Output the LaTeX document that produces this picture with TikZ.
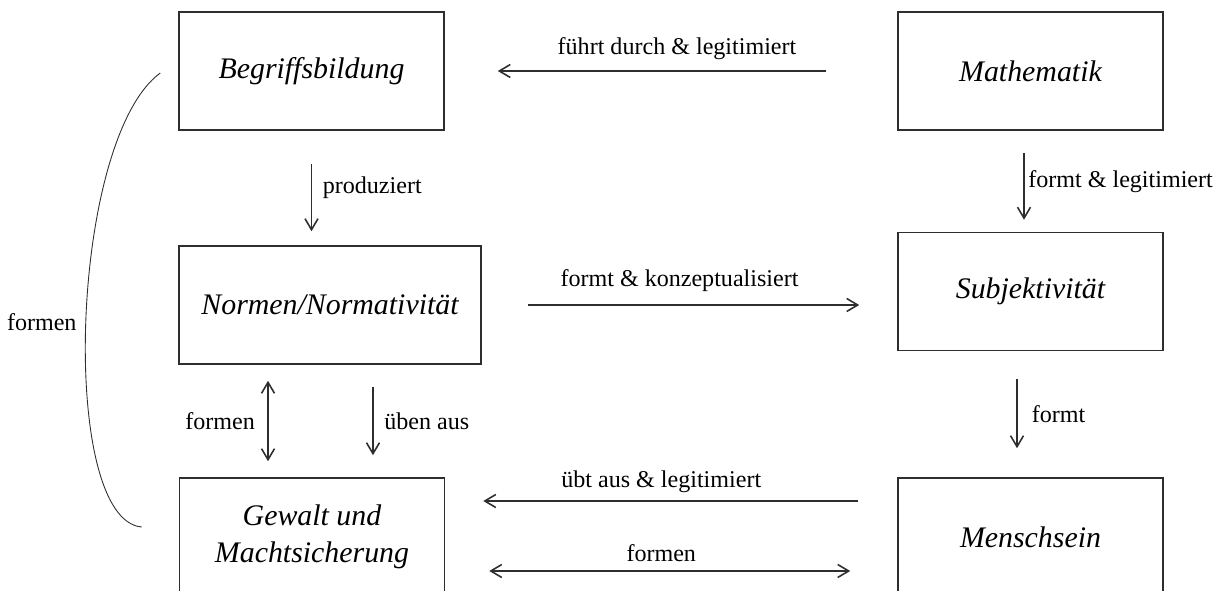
\documentclass[tikz,border=0pt]{standalone}
\usepackage{fontspec}
\setmainfont{Liberation Serif}
\usetikzlibrary{positioning,arrows.meta}
\definecolor{cline}{HTML}{2E2E2E}
\tikzset{
 blk/.style={rectangle, draw=cline, line width=0.9pt, minimum width=5.3cm,
 minimum height=2.36cm, align=center, font=\fontsize{17}{21}\selectfont\itshape},
 lbl/.style={inner sep=2pt, font=\fontsize{13.7}{16}\selectfont},
 fl/.style={-{Straight Barb[length=2.2mm,width=2.6mm]}, draw=cline, line width=0.9pt},
 fld/.style={{Straight Barb[length=2.2mm,width=2.6mm]}-{Straight Barb[length=2.2mm,width=2.6mm]},
 draw=cline, line width=0.9pt},
 arc/.style={draw=cline, line width=0.5pt},
}

\begin{document}
\begin{tikzpicture}[x=0.02cm, y=-0.02cm]
 \path[use as bounding box, clip] (0,0) rectangle (1228,591);

 \node[blk] (begr) at (311.5,71) {Begriffsbildung};
 \node[blk] (mathe) at (1030.5,71) {Mathematik};
 \node[blk, minimum width=6.04cm] (norm) at (330,305) {Normen/Normativität};
 \node[blk] (subj) at (1030.5,291.5) {Subjektivität};
 \node[blk] (gew) at (312,537) {Gewalt und\\Machtsicherung};
 \node[blk] (mensch) at (1030.5,537) {Menschsein};

 \draw[fl, shorten <=1.42cm, shorten >=1.06cm] (mathe.west) -- node[lbl, above=4pt, xshift=0.12cm]{führt durch \& legitimiert} (begr.east);
 \draw[fl, shorten <=0.66cm, shorten >=0.28cm] (begr.south) -- node[lbl, right=4pt]{produziert} (begr.south |- norm.north);
 \draw[fl, shorten <=0.44cm, shorten >=0.24cm] ([xshift=-0.13cm]mathe.south) -- node[lbl, right=0pt]{formt \& legitimiert} ([xshift=-0.13cm]subj.north);
 \draw[fl, shorten <=0.92cm, shorten >=0.76cm] (norm.east) -- node[lbl, above=5pt, xshift=-0.2cm]{formt \& konzeptualisiert} (norm.east -| subj.west);
 \draw[fl, shorten <=0.56cm, shorten >=0.58cm] ([xshift=-0.27cm]subj.south) -- node[lbl, right=6pt]{formt} ([xshift=-0.27cm]mensch.north);
 \draw[fld, shorten <=0.32cm, shorten >=0.32cm] ([xshift=-0.88cm]gew.north |- norm.south) -- node[lbl, left=5pt]{formen} ([xshift=-0.88cm]gew.north);
 \draw[fl, shorten <=0.44cm, shorten >=0.44cm] ([xshift=1.22cm]gew.north |- norm.south) -- node[lbl, right=4pt]{üben aus} ([xshift=1.22cm]gew.north);
 \draw[fl, shorten <=0.78cm, shorten >=0.76cm] ([yshift=0.72cm]mensch.west) -- node[lbl, above=2pt, xshift=-0.2cm]{übt aus \& legitimiert} ([yshift=0.72cm]gew.east);
 \draw[fld, shorten <=0.88cm, shorten >=0.94cm] ([yshift=-0.68cm]gew.east) -- node[lbl, above=3pt, xshift=-0.2cm]{formen} ([yshift=-0.68cm]mensch.west);
 \draw[arc] ([xshift=-0.36cm,yshift=-0.04cm]begr.west) .. controls +(-91,67) and +(-83,-7) .. node[lbl, pos=0.5, left=3pt]{formen} ([xshift=-0.74cm,yshift=0.2cm]gew.west);
\end{tikzpicture}
\end{document}
